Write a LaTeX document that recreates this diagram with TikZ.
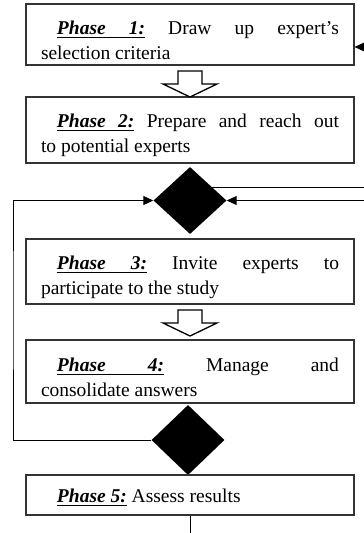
\documentclass[tikz,border=0pt]{standalone}
\usepackage{fontspec}
\setmainfont{Liberation Serif}
\usepackage{tikz}
\usetikzlibrary{shapes.geometric,arrows.meta,calc}

% underline that keeps the space stretchable when the line is justified
\newcommand{\ulword}[1]{\leavevmode\setbox0=\hbox{#1}\rlap{\vrule height -2.2pt depth 3.3pt width \wd0}\box0}
\newcommand{\ulspace}{\leaders\vrule height -2.2pt depth 3.3pt\hskip\fontdimen2\font plus\fontdimen3\font minus\fontdimen4\font}
\newcommand{\phaselbl}[1]{{\bfseries\itshape\ulword{Phase}\ulspace\ulword{#1:}}}

\begin{document}
\begin{tikzpicture}[x=1pt,y=-1pt,
    phasebox/.style={draw=black!80, line width=1.1pt, minimum width=328pt, text width=298pt, inner xsep=15pt, inner ysep=0pt, align=justify, font=\fontsize{19.5pt}{25pt}\selectfont, execute at begin node={\rule{0pt}{#1}}},
    phasebox/.default=25pt,
    gate/.style={diamond, fill=black, inner sep=0pt, minimum width=73pt},
    flow/.style={line width=1pt, -{Triangle[length=10pt,width=9pt]}},
    link/.style={line width=1pt},
    hollowarrow/.pic={\draw[line width=1.3pt] (-12,-13) -- (12,-13) -- (12,0) -- (27,0) -- (0,13) -- (-27,0) -- (-12,0) -- cycle;}]
    \useasboundingbox (0,0) rectangle (364,533);

    \node[phasebox, minimum height=61pt] (p1) at (190,34.5) {\hspace*{16pt}\phaselbl{1} Draw up expert's\linebreak selection criteria};
    \node[phasebox, minimum height=66pt] (p2) at (190,130) {\hspace*{16pt}\phaselbl{2} Prepare and reach out\linebreak to potential experts};
    \node[gate, minimum height=67pt] (d1) at (190,200.5) {};
    \node[phasebox, minimum height=65pt] (p3) at (190,271.5) {\hspace*{16pt}\phaselbl{3} Invite experts to\linebreak participate to the study};
    \node[phasebox, minimum height=63pt] (p4) at (190,371.5) {\hspace*{16pt}\phaselbl{4} Manage and\linebreak consolidate answers};
    \node[gate, minimum height=70pt] (d2) at (188,440) {};
    \node[phasebox=19pt, minimum height=40pt] (p5) at (190,495) {\hspace*{16pt}\phaselbl{5} Assess results};

    \pic at (190,84) {hollowarrow};
    \pic at (190,323) {hollowarrow};

    % loose ends at the page edges
    \coordinate (redge) at (364,0);
    \coordinate (in1) at (364,47);
    \coordinate (in2) at ($(d1.north)!0.6!(d1.east)$);
    \coordinate (lft) at (13,300);
    \coordinate (bottom) at (190,533);

    \draw[flow] (in1) -- (in1 -| p1.east);
    \draw[link] (in2) -- (in2 -| redge);
    \draw[flow] (d1.east -| redge) -- (d1.east);
    \draw[flow] (d2.west) -| (lft) |- (d1.west);
    \draw[link] (p5.south) -- (p5.south |- bottom);
\end{tikzpicture}
\end{document}
